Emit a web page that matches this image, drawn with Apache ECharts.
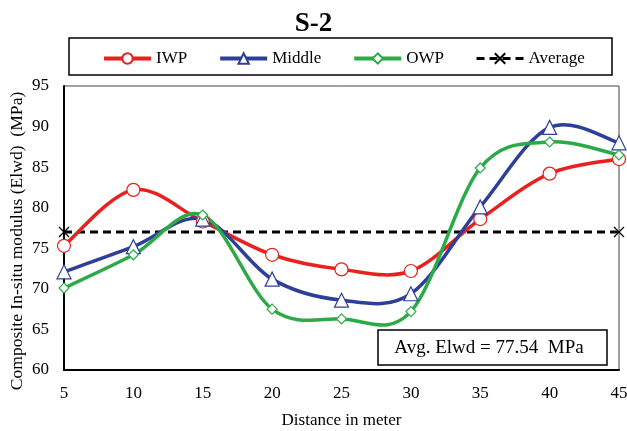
<!DOCTYPE html>
<html><head><meta charset="utf-8">
<script src="https://cdn.jsdelivr.net/npm/echarts@6/dist/echarts.min.js"></script>
<style>html,body{margin:0;padding:0;background:#fff}#c{width:627px;height:431px}</style>
</head><body><div id="c"></div>
<script>
const distances = [5, 10, 15, 20, 25, 30, 35, 40, 45];
const iwp    = [75.3, 82.2, 78.3, 74.2, 72.4, 72.2, 78.6, 84.2, 86.0];
const middle = [72.1, 75.2, 78.6, 71.2, 68.6, 69.4, 80.1, 89.9, 88.0];
const owp    = [70.1, 74.2, 79.1, 67.5, 66.3, 67.2, 84.9, 88.1, 86.5];
const avgX = [5, 45];
const avgValue = 77;
const avgLabel = 'Avg. Elwd = 77.54  MPa';

const colors = {IWP: '#E8211E', Middle: '#2E3F97', OWP: '#2DAA48'};
const pair = (xs, ys) => xs.map((x, i) => [x, ys[i]]);
const font = 'Liberation Serif';
const chart = echarts.init(document.getElementById('c'), null, {renderer: 'canvas'});

// Excel-like smoothed curve (Catmull-Rom through the data points, in pixel space via api.coord)
function curveSeries(name, ys, color, z) {
  return {
    type: 'custom', name: name + ' curve', silent: true, z,
    data: pair(distances, ys), encode: {x: 0, y: 1},
    renderItem: (params, api) => {
      if (params.dataIndex !== 0) return null;
      const pts = distances.map((x, i) => api.coord([x, ys[i]]));
      let d = 'M' + pts[0][0] + ',' + pts[0][1];
      const n = pts.length;
      for (let i = 0; i < n - 1; i++) {
        const p0 = pts[Math.max(i - 1, 0)], p1 = pts[i], p2 = pts[i + 1], p3 = pts[Math.min(i + 2, n - 1)];
        const c1 = [p1[0] + (p2[0] - p0[0]) / 6, p1[1] + (p2[1] - p0[1]) / 6];
        const c2 = [p2[0] - (p3[0] - p1[0]) / 6, p2[1] - (p3[1] - p1[1]) / 6];
        d += 'C' + c1[0] + ',' + c1[1] + ',' + c2[0] + ',' + c2[1] + ',' + p2[0] + ',' + p2[1];
      }
      return {type: 'path', shape: {pathData: d},
        style: {fill: 'none', stroke: color, lineWidth: 3.5, lineJoin: 'round'}};
    }
  };
}
const markerSeries = (name, data, symbol, size, z) => ({
  name, type: 'line', data: pair(distances, data),
  symbol, symbolSize: size, showSymbol: true,
  lineStyle: {color: colors[name], width: 4, opacity: 0},
  itemStyle: {color: '#fff', borderColor: colors[name], borderWidth: 1.2},
  z
});
chart.setOption({
  animation: false,
  title: {text: 'S-2', left: 'center', top: 6,
    textStyle: {fontFamily: font, fontSize: 27, fontWeight: 'bold', color: '#000'}},
  legend: {
    left: 97, top: 45, itemGap: 31, itemWidth: 47, itemHeight: 13,
    textStyle: {fontFamily: font, fontSize: 17, color: '#000'},
    data: [
      {name: 'IWP', lineStyle: {color: colors.IWP, width: 4, opacity: 1}},
      {name: 'Middle', lineStyle: {color: colors.Middle, width: 4, opacity: 1}},
      {name: 'OWP', lineStyle: {color: colors.OWP, width: 4, opacity: 1}},
      {name: 'Average', lineStyle: {color: '#000', width: 3, opacity: 1}}
    ]
  },
  grid: {left: 64, right: 8, top: 86, bottom: 61, show: true, borderColor: '#444', borderWidth: 1,
    outerBoundsMode: 'none', containLabel: false},
  xAxis: {
    type: 'value', min: 5, max: 45, interval: 5,
    name: 'Distance in meter', nameLocation: 'middle', nameGap: 42, nameMoveOverlap: false,
    nameTextStyle: {fontFamily: font, fontSize: 17, color: '#000'},
    axisLine: {lineStyle: {color: '#000', width: 2}},
    axisTick: {show: false},
    splitLine: {show: false},
    axisLabel: {fontFamily: font, fontSize: 17, color: '#000', margin: 15}
  },
  yAxis: {
    type: 'value', min: 60, max: 95, interval: 5,
    name: 'Composite In-situ modulus (Elwd)  (MPa)', nameLocation: 'middle', nameGap: 38,
    nameMoveOverlap: false,
    nameTextStyle: {fontFamily: font, fontSize: 17.6, color: '#000', padding: [0, 26, 0, 0]},
    axisLine: {show: true, lineStyle: {color: '#000', width: 2}},
    axisTick: {show: false},
    splitLine: {show: false},
    axisLabel: {fontFamily: font, fontSize: 17, color: '#000', margin: 15}
  },
  graphic: [
    {type: 'rect', shape: {x: 69, y: 38, width: 543, height: 37},
      style: {fill: 'none', stroke: '#000', lineWidth: 1.5}, z: 0},
    {type: 'rect', shape: {x: 378, y: 330, width: 229, height: 35},
      style: {fill: '#fff', stroke: '#000', lineWidth: 1.5}, z: 10},
    {type: 'text', x: 489, y: 348, style: {text: avgLabel, fontFamily: font, fontSize: 19,
      fill: '#000', textAlign: 'center', textVerticalAlign: 'middle'}, z: 11}
  ],
  series: [
    curveSeries('IWP', iwp, colors.IWP, 3),
    curveSeries('Middle', middle, colors.Middle, 3),
    curveSeries('OWP', owp, colors.OWP, 3),
    markerSeries('IWP', iwp, 'circle', 13, 4),
    markerSeries('Middle', middle, 'triangle', 14, 4),
    markerSeries('OWP', owp, 'diamond', 10, 4),
    {
      name: 'Average', type: 'line', data: avgX.map(x => [x, avgValue]),
      symbol: 'path://M0,0L10,10M10,0L0,10', symbolSize: 10,
      lineStyle: {color: '#000', width: 3, type: [8, 5]},
      itemStyle: {color: '#000', borderColor: '#000', borderWidth: 1.3},
      z: 2
    }
  ]
});
</script></body></html>
